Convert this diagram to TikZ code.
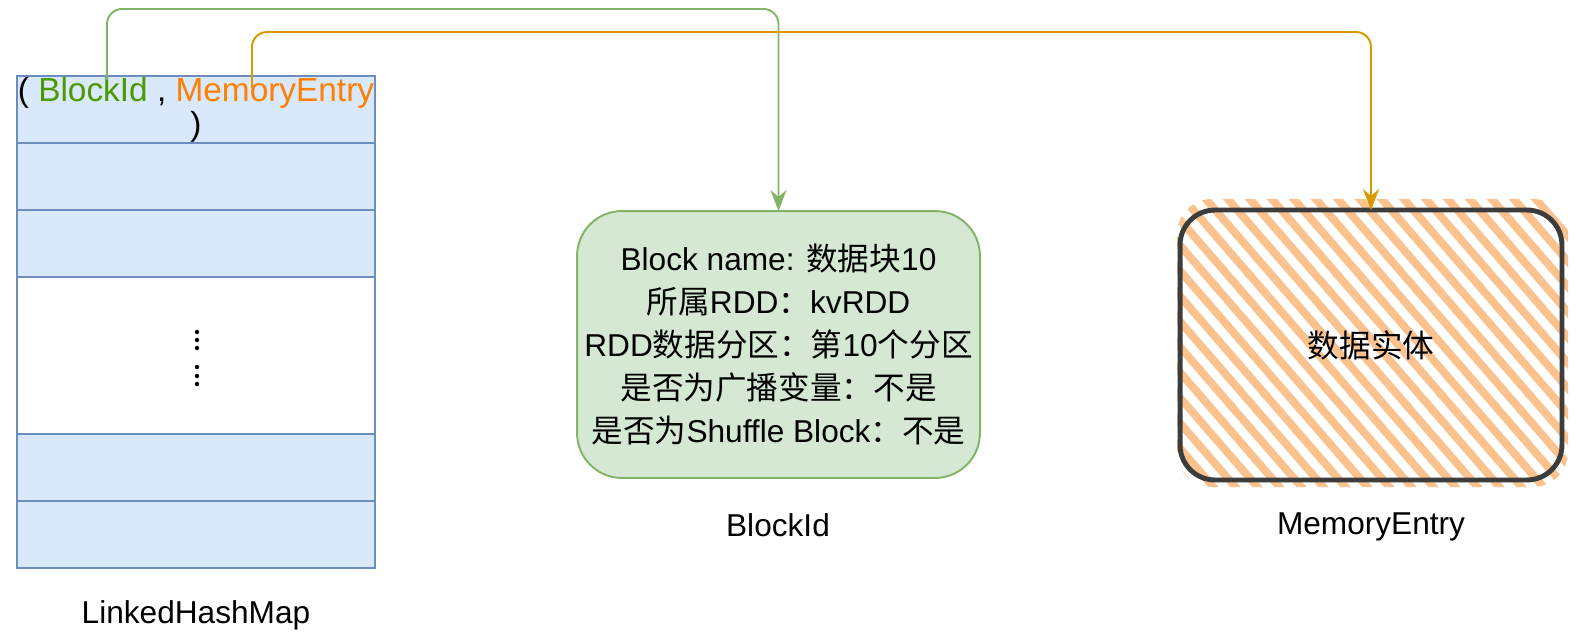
\documentclass[tikz,border=0pt]{standalone}
\usepackage{fontspec}
\setmainfont{Liberation Sans}
\newfontfamily\zhfont{Noto Sans CJK SC}
\newcommand{\zh}[1]{{\zhfont #1}}
\usepackage{tikz}
\usetikzlibrary{arrows.meta}
\definecolor{mapfill}{HTML}{DAE8FC}
\definecolor{mapline}{HTML}{6C8EBF}
\definecolor{blkfill}{HTML}{D5E8D4}
\definecolor{blkline}{HTML}{82B366}
\definecolor{keygreen}{HTML}{4D9900}
\definecolor{valorange}{HTML}{FF8000}
\definecolor{linkorange}{HTML}{D79B00}
\definecolor{hatchorange}{HTML}{FBC28E}
\definecolor{memline}{HTML}{3C3C3C}

\begin{document}
\begin{tikzpicture}[x=0.02cm, y=-0.02cm,
  every node/.style={font=\fontsize{18}{24.4}\selectfont, inner sep=0pt, outer sep=0pt},
  cell/.style={draw=mapline, fill=mapfill, line width=1.1pt, minimum width=7.16cm, minimum height=1.34cm},
  link/.style={line width=1.1pt, rounded corners=0.3cm, -{Stealth[length=0.42cm, width=0.32cm]}}]
\useasboundingbox (0,0) rectangle (1583,640);

% LinkedHashMap rows top to bottom
\node[cell, align=center, font=\fontsize{19}{19.5}\selectfont] (row1) at (196,109.5)
  {( \textcolor{keygreen}{BlockId} , \textcolor{valorange}{MemoryEntry}\\)};
\node[cell] (row2) at (196,176.5) {};
\node[cell] (row3) at (196,243.5) {};
\node[cell, fill=white, minimum height=3.14cm] (row4) at (196,355.5) {};
\node[cell] (row5) at (196,467.5) {};
\node[cell] (row6) at (196,534.5) {};
\foreach \y in {332,340,348,367,376,384}
  \fill (197,\y) circle (2.2);
\node (maplbl) at (196,615) {LinkedHashMap};

% BlockId box
\node[draw=blkline, fill=blkfill, line width=1.1pt, rounded corners=0.9cm,
  minimum width=8.06cm, minimum height=5.34cm, align=center] (blk) at (778.5,344.5)
  {Block name: \zh{数据块}10\\
   \zh{所属}RDD\zh{：}kvRDD\\
   RDD\zh{数据分区：第}10\zh{个分区}\\
   \zh{是否为广播变量：不是}\\
   \zh{是否为}Shuffle Block\zh{：不是}};
\node (blklbl) at (778,525) {BlockId};

% MemoryEntry box, hatched
\begin{scope}
\clip[rounded corners=0.7cm] (1177,199) rectangle (1568,487);
\foreach \i in {0,...,31}
  \draw[hatchorange, line width=4.5pt, line cap=round] (890+22*\i,190) -- ++(260,300);
\end{scope}
\node[draw=memline, line width=2.8pt, rounded corners=0.7cm,
  minimum width=7.64cm, minimum height=5.4cm] (mem) at (1371,345) {\zh{数据实体}};
\node (memlbl) at (1371,527) {MemoryEntry};

% Links from the pair to both boxes
\coordinate (kid) at (107,80);
\coordinate (gtop) at (107,9);
\coordinate (vid) at (252,88);
\coordinate (otop) at (252,32);
\draw[link, blkline] (kid) -- (gtop) -| (blk.north);
\draw[link, linkorange] (vid) -- (otop) -| (mem.north);
\end{tikzpicture}
\end{document}
